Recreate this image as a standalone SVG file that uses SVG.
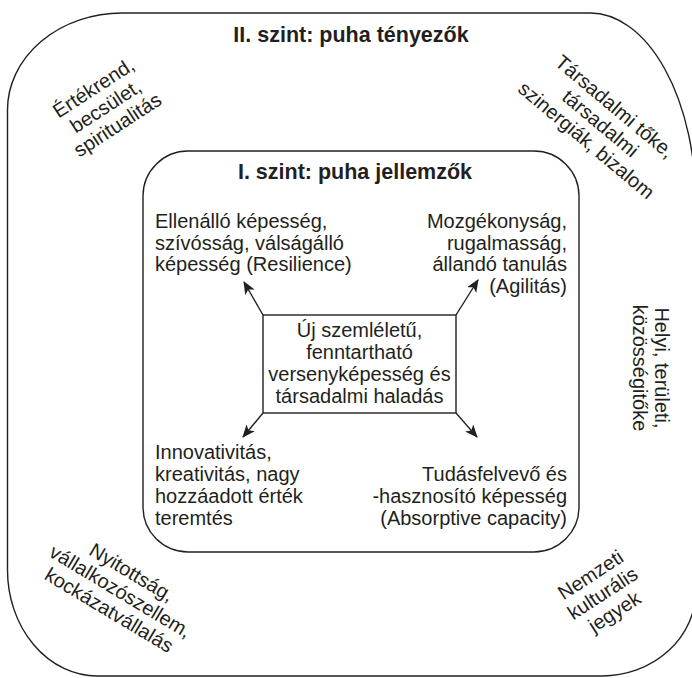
<svg xmlns="http://www.w3.org/2000/svg" width="692" height="678" viewBox="0 0 692 678">
<style>
.frame{fill:none;stroke:#231f20;stroke-width:1.4}
.t{font-family:"Liberation Sans",Arial,sans-serif;font-size:20px;fill:#231f20}
.h{font-family:"Liberation Sans",Arial,sans-serif;font-size:21.5px;font-weight:bold;fill:#231f20}
.c{text-anchor:middle}
.r{text-anchor:end}
.ln{stroke:#231f20;stroke-width:1.4;fill:none;marker-end:url(#ah)}
</style>
<defs>
<marker id="ah" viewBox="0 0 12 10" refX="11" refY="5" markerWidth="13" markerHeight="11" markerUnits="userSpaceOnUse" orient="auto">
<path d="M0,0 L12,5 L0,10 L3,5 Z" fill="#231f20"/>
</marker>
</defs>
<rect width="692" height="678" fill="#ffffff"/>
<g id="outer">
<path class="frame" d="M122,13 H590 A106,192 0 0 1 696,205 V590 A94,86 0 0 1 602,676 H97 A90,106 0 0 1 7.5,570 V110 A115,97 0 0 1 122,13 Z"/>
<text class="h c" x="351" y="42">II. szint: puha tényezők</text>
</g>
<g id="inner">
<rect class="frame" x="143" y="151" width="436" height="401" rx="45" ry="45"/>
<text class="h c" x="355" y="179">I. szint: puha jellemzők</text>
</g>
<g id="center">
<rect class="frame" x="263" y="315" width="193" height="98"/>
<text class="t c" x="359.5" y="337">Új szemléletű,</text>
<text class="t c" x="359.5" y="359">fenntartható</text>
<text class="t c" x="359.5" y="381">versenyképesség és</text>
<text class="t c" x="359.5" y="403">társadalmi haladás</text>
</g>
<g id="resilience">
<text class="t" x="155" y="228">Ellenálló képesség,</text>
<text class="t" x="155" y="249.5">szívósság, válságálló</text>
<text class="t" x="155" y="271">képesség (Resilience)</text>
</g>
<g id="agility">
<text class="t r" x="567" y="228">Mozgékonyság,</text>
<text class="t r" x="567" y="249.5">rugalmasság,</text>
<text class="t r" x="567" y="271">állandó tanulás</text>
<text class="t r" x="567" y="292.5">(Agilitás)</text>
</g>
<g id="innovation">
<text class="t" x="155" y="459">Innovativitás,</text>
<text class="t" x="155" y="481">kreativitás, nagy</text>
<text class="t" x="155" y="503">hozzáadott érték</text>
<text class="t" x="155" y="525">teremtés</text>
</g>
<g id="absorptive">
<text class="t r" x="567" y="481">Tudásfelvevő és</text>
<text class="t r" x="567" y="503">-hasznosító képesség</text>
<text class="t r" x="567" y="525">(Absorptive capacity)</text>
</g>
<g id="values" transform="translate(106,107) rotate(-33)">
<text class="t c" x="0" y="-16">Értékrend,</text>
<text class="t c" x="0" y="6">becsület,</text>
<text class="t c" x="0" y="28">spiritualitás</text>
</g>
<g id="social" transform="translate(600,124) rotate(40)">
<text class="t c" x="0" y="-16">Társadalmi tőke,</text>
<text class="t c" x="0" y="6">társadalmi</text>
<text class="t c" x="0" y="28">szinergiák, bizalom</text>
</g>
<g id="local" transform="translate(650,368) rotate(90)">
<text class="t c" x="0" y="-5">Helyi, területi,</text>
<text class="t c" x="0" y="17">közösségitőke</text>
</g>
<g id="openness" transform="translate(120,592) rotate(31)">
<text class="t c" x="0" y="-16">Nyitottság,</text>
<text class="t c" x="0" y="6">vállalkozószellem,</text>
<text class="t c" x="0" y="28">kockázatvállalás</text>
</g>
<g id="national" transform="translate(603,594) rotate(-33)">
<text class="t c" x="0" y="-16">Nemzeti</text>
<text class="t c" x="0" y="6">kulturális</text>
<text class="t c" x="0" y="28">jegyek</text>
</g>
<g id="connectors">
<line class="ln" x1="263" y1="315" x2="244" y2="282"/>
<line class="ln" x1="456" y1="315" x2="478" y2="280"/>
<line class="ln" x1="263" y1="413" x2="243" y2="437"/>
<line class="ln" x1="456" y1="413" x2="477" y2="437"/>
</g>
</svg>
